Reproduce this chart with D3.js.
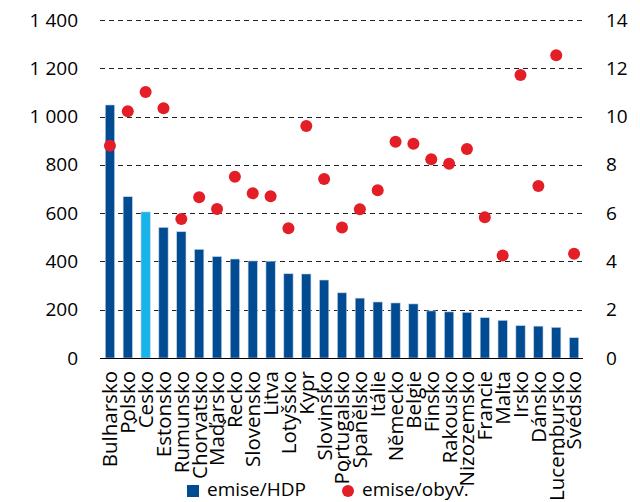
<!DOCTYPE html>
<html><head><meta charset="utf-8">
<script src="https://cdn.jsdelivr.net/npm/d3@7"></script>
<style>body{margin:0;background:#fff}svg{display:block}text{font-family:"Open Sans",sans-serif;fill:#000}</style>
</head><body><svg id="c" width="640" height="502"></svg>
<script>
const categories = ["Bulharsko","Polsko","Česko","Estonsko","Rumunsko","Chorvatsko","Maďarsko","Řecko","Slovensko","Litva","Lotyšsko","Kypr","Slovinsko","Portugalsko","Španělsko","Itálie","Německo","Belgie","Finsko","Rakousko","Nizozemsko","Francie","Malta","Irsko","Dánsko","Lucembursko","Švédsko"];
const emiseHDP = [1048,668,605,541,523,450,420,410,402,401,349,348,323,270,248,232,228,224,195,191,189,167,156,134,132,127,84];
const emiseObyv = [8.79,10.22,11.02,10.34,5.76,6.66,6.17,7.51,6.82,6.70,5.37,9.61,7.41,5.41,6.16,6.95,8.96,8.87,8.23,8.05,8.66,5.83,4.25,11.72,7.12,12.54,4.32];
const leftTicks = [0,200,400,600,800,1000,1200,1400];
const rightTicks = [0,2,4,6,8,10,12,14];
const seriesNames = ["emise/HDP","emise/obyv."];

const svg = d3.select("#c");
const L = 101, R = 583, T = 20, B = 358;
const x = d3.scaleBand().domain(categories).range([L, R]).paddingInner(0.48).paddingOuter(0.24);
const yL = d3.scaleLinear().domain([0,1400]).range([B,T]);
const yR = d3.scaleLinear().domain([0,14]).range([B,T]);
const fmt = d => d3.format(",")(d).replace(/,/g," ");

// gridlines
svg.append("g").selectAll("line").data(leftTicks.filter(d=>d>0)).join("line")
  .attr("x1",L-1).attr("x2",R).attr("y1",d=>Math.round(yL(d))+0.5).attr("y2",d=>Math.round(yL(d))+0.5)
  .attr("stroke","#222").attr("stroke-width",1).attr("stroke-dasharray","5,4");

// bars
svg.append("g").selectAll("rect").data(categories).join("rect")
  .attr("x",d=>x(d)).attr("width",x.bandwidth())
  .attr("y",(d,i)=>yL(emiseHDP[i])).attr("height",(d,i)=>B-yL(emiseHDP[i]))
  .attr("fill",d=>d==="Česko"?"#16B4E9":"#004B91")
  .attr("stroke","#c4d4e6").attr("stroke-width",0.6);

// axis line
svg.append("line").attr("x1",L-1).attr("x2",R).attr("y1",B+0.5).attr("y2",B+0.5).attr("stroke","#000").attr("stroke-width",1.2);

// dots
svg.append("g").selectAll("circle").data(categories).join("circle")
  .attr("cx",d=>x(d)+x.bandwidth()/2).attr("cy",(d,i)=>yR(emiseObyv[i])).attr("r",6)
  .attr("fill","#E41E26");

// left axis labels
const axL = d3.axisLeft(yL).tickValues(leftTicks).tickFormat(fmt).tickSize(0).tickPadding(0);
const gL = svg.append("g").attr("transform",`translate(78,0)`).call(axL);
gL.select(".domain").remove();
gL.selectAll("text").attr("font-size",19).attr("font-family","Open Sans").attr("fill","#000");

const axR = d3.axisRight(yR).tickValues(rightTicks).tickSize(0).tickPadding(0);
const gR = svg.append("g").attr("transform",`translate(606,0)`).call(axR);
gR.select(".domain").remove();
gR.selectAll("text").attr("font-size",19).attr("font-family","Open Sans").attr("fill","#000");

// category labels
svg.append("g").selectAll("text").data(categories).join("text")
  .attr("transform",d=>`translate(${x(d)+x.bandwidth()/2},371) rotate(-90)`)
  .attr("text-anchor","end").attr("dy","0.36em").attr("font-size",20.5).text(d=>d);

// legend
const lg = svg.append("g");
lg.append("rect").attr("x",187).attr("y",485).attr("width",12).attr("height",12).attr("fill","#004B91");
lg.append("text").attr("x",207).attr("y",496).attr("font-size",19).text(seriesNames[0]);
lg.append("circle").attr("cx",348).attr("cy",491).attr("r",6).attr("fill","#E41E26");
lg.append("text").attr("x",362).attr("y",496).attr("font-size",19).text(seriesNames[1]);
</script></body></html>
